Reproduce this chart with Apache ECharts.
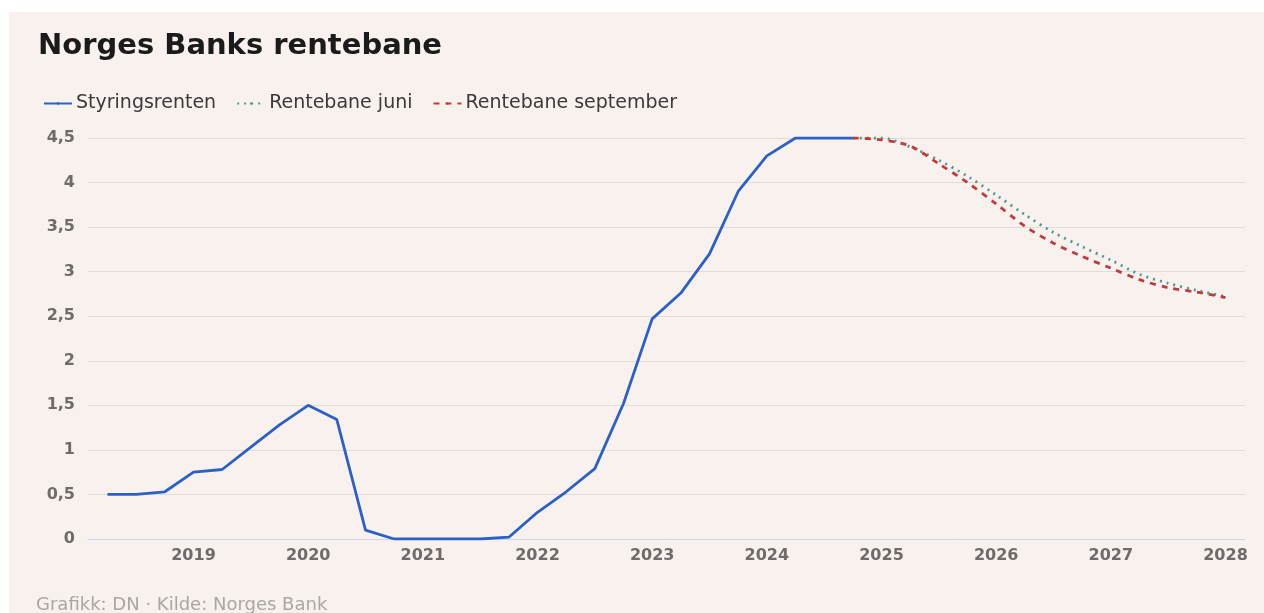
<!DOCTYPE html>
<html>
<head>
<meta charset="utf-8">
<script src="https://cdn.jsdelivr.net/npm/echarts@6/dist/echarts.min.js"></script>
<style>
  html, body { margin: 0; padding: 0; background: #fff; }
  #rentebane {
    position: absolute;
    left: 9px;
    top: 12px;
    width: 1255px;
    height: 601px;
  }
</style>
</head>
<body>
<div id="rentebane"></div>
<script>
    // kvartaler som desimalår (2019 = 1. kvartal 2019)
    const histQuarters = [2018.25, 2018.5, 2018.75, 2019, 2019.25, 2019.5, 2019.75, 2020, 2020.25, 2020.5, 2020.75,
        2021, 2021.25, 2021.5, 2021.75, 2022, 2022.25, 2022.5, 2022.75, 2023, 2023.25, 2023.5, 2023.75,
        2024, 2024.25, 2024.5, 2024.75];
    const styringsrenten = [0.5, 0.5, 0.53, 0.75, 0.78, 1.03, 1.28, 1.5, 1.34, 0.1, 0, 0, 0, 0, 0.02,
        0.3, 0.53, 0.79, 1.52, 2.47, 2.76, 3.2, 3.9, 4.3, 4.5, 4.5, 4.5];

    const projQuarters = [2024.75, 2025, 2025.25, 2025.5, 2025.75, 2026, 2026.25, 2026.5, 2026.75,
        2027, 2027.25, 2027.5, 2027.75, 2028];
    const rentebaneJuni = [4.5, 4.5, 4.4, 4.25, 4.07, 3.86, 3.64, 3.44, 3.28, 3.13, 2.97, 2.87, 2.79, 2.72];
    const rentebaneSeptember = [4.5, 4.48, 4.41, 4.21, 4.0, 3.76, 3.51, 3.32, 3.17, 3.04, 2.91, 2.82, 2.77, 2.71];

    const yearTicks = [2019, 2020, 2021, 2022, 2023, 2024, 2025, 2026, 2027, 2028];
    const yTicks = [0, 0.5, 1, 1.5, 2, 2.5, 3, 3.5, 4, 4.5];

    const font = 'DejaVu Sans';
    const pair = (xs, ys) => xs.map((x, i) => [x, ys[i]]);

    let chart = echarts.init(document.getElementById('rentebane'));

    let option = {
        backgroundColor: '#f8f1ee',
        animation: false,
        textStyle: { fontFamily: font },
        title: {
            text: 'Norges Banks rentebane',
            left: 24,
            top: 15,
            textStyle: {
                color: '#1b1b1b',
                fontSize: 29,
                fontWeight: 'bold',
                fontFamily: font
            }
        },
        legend: {
            left: 29,
            top: 77,
            itemWidth: 28,
            itemHeight: 3,
            itemGap: 20,
            textStyle: {
                color: '#3a3a3a',
                fontSize: 19,
                padding: [0, 0, 0, -1]
            },
            data: ['Styringsrenten', 'Rentebane juni', 'Rentebane september']
        },
        graphic: [{
            type: 'text',
            left: 27,
            top: 584,
            style: {
                text: 'Grafikk: DN · Kilde: Norges Bank',
                fill: '#aaa6a4',
                fontSize: 18,
                fontFamily: font
            }
        }],
        grid: {
            left: 79,
            right: 19,
            top: 126,
            bottom: 74
        },
        xAxis: {
            type: 'value',
            min: 2018.08,
            max: 2028.17,
            splitLine: { show: false },
            axisTick: { show: false },
            axisLine: {
                show: true,
                lineStyle: { color: '#c9d6ee', width: 1 }
            },
            axisLabel: {
                customValues: yearTicks,
                color: '#6e6b6a',
                fontSize: 16,
                fontWeight: 'bold',
                margin: 9,
                formatter: v => String(v)
            }
        },
        yAxis: {
            type: 'value',
            min: 0,
            max: 4.5,
            interval: 0.5,
            axisTick: { show: false },
            axisLine: { show: false },
            splitLine: {
                lineStyle: { color: '#e2dcd9', width: 1 }
            },
            axisLabel: {
                customValues: yTicks,
                color: '#6e6b6a',
                fontSize: 16,
                fontWeight: 'bold',
                margin: 13,
                formatter: v => String(v).replace('.', ',')
            }
        },
        series: [{
            name: 'Styringsrenten',
            type: 'line',
            symbol: 'none',
            z: 3,
            lineStyle: { color: '#2a60c8', width: 2.8 },
            itemStyle: { color: '#2a60c8' },
            data: pair(histQuarters, styringsrenten)
        }, {
            name: 'Rentebane juni',
            type: 'line',
            symbol: 'none',
            smooth: 0.3,
            lineStyle: { color: '#4c9b93', width: 2.8, type: [2, 5] },
            itemStyle: { color: '#4c9b93' },
            data: pair(projQuarters, rentebaneJuni)
        }, {
            name: 'Rentebane september',
            type: 'line',
            symbol: 'none',
            smooth: 0.3,
            lineStyle: { color: '#c23a3c', width: 2.8, type: [6, 6] },
            itemStyle: { color: '#c23a3c' },
            data: pair(projQuarters, rentebaneSeptember)
        }]
    };

    chart.setOption(option);
</script>
</body>
</html>
